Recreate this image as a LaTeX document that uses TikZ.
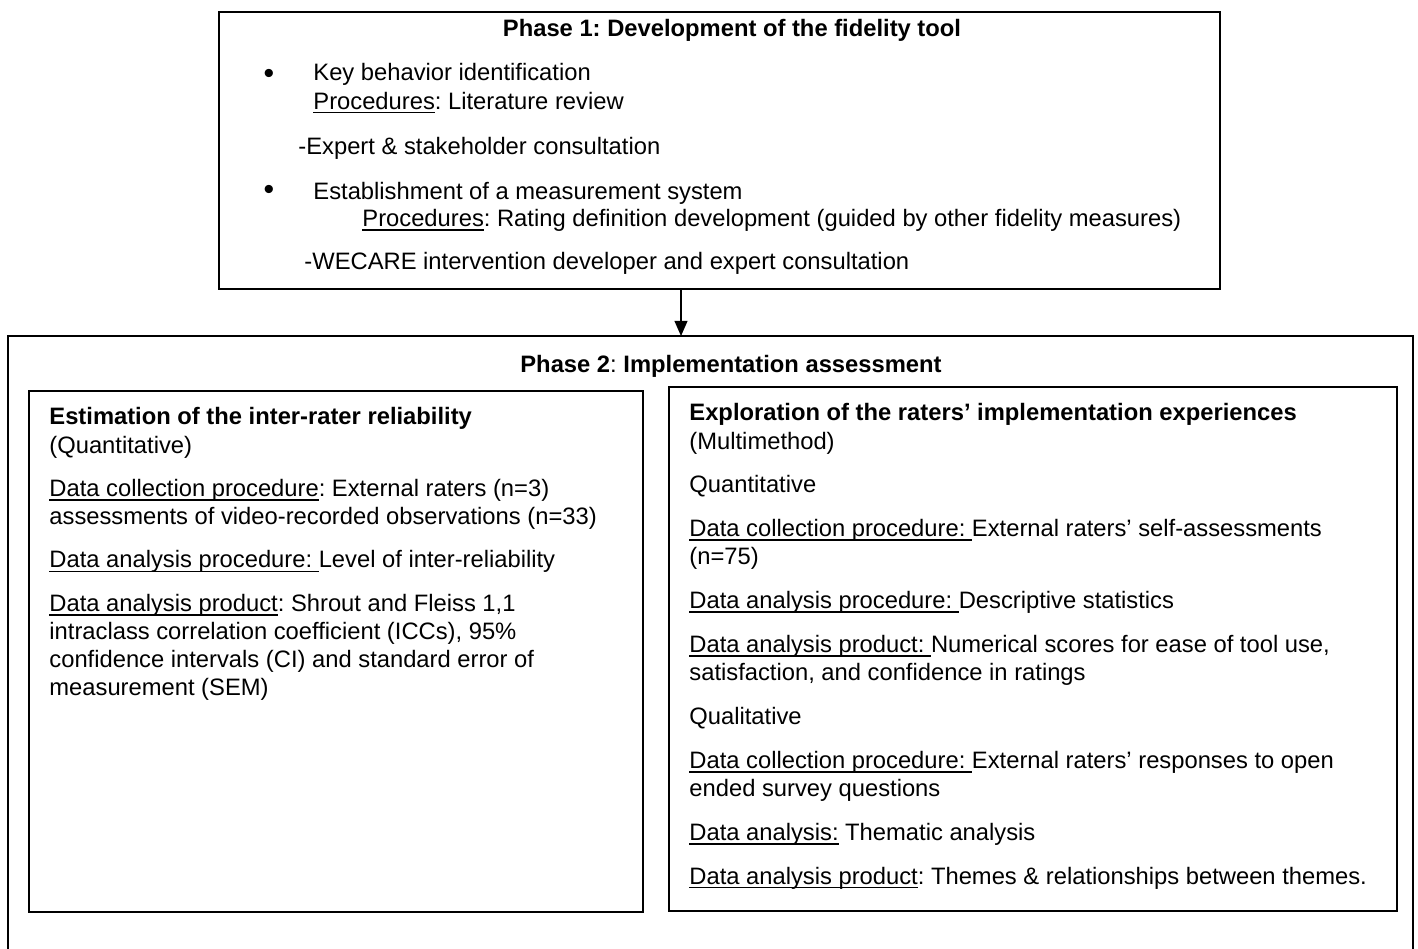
\documentclass[tikz,border=0pt]{standalone}
\usepackage{fontspec}
\setmainfont{Liberation Sans}
\usetikzlibrary{arrows.meta,fit}
\newcommand{\ulin}[1]{\setbox0\hbox{#1}\rlap{\rule[-2pt]{\wd0}{0.8pt}}\box0}
\begin{document}
\begin{tikzpicture}[x=0.463pt, y=-0.463pt,
  txt/.style={inner sep=0pt, anchor=north west, yshift=9.1pt, align=left,
    font=\fontsize{11}{13}\selectfont\frenchspacing, execute at begin node={\strut}},
  ttl/.style={txt, anchor=north, font=\fontsize{11}{13}\selectfont\frenchspacing\bfseries},
  dot/.style={txt, anchor=north, font=\fontsize{14}{13}\selectfont},
  p1frame/.style={draw, line width=1.2pt, inner sep=0pt},
  inframe/.style={draw, line width=0.6pt, inner sep=0pt},
  arr/.style={line width=0.6pt, -{Triangle[width=6pt,length=7pt]}}]
\useasboundingbox (0,0) rectangle (1418,949);
% phase 1
\node[p1frame, fit={(219,12) (1220,289)}] (p1) {};
\node[ttl] (p1title) at (732,36) {Phase 1: Development of the fidelity tool};
\node[dot] (dot1) at (269,83) {\textbullet};
\node[txt] (keyb) at (313,83) {Key behavior identification\\ \ulin{Procedures}: Literature review};
\node[txt] (expert) at (298,154) {-Expert \& stakeholder consultation};
\node[dot] (dot2) at (269,199) {\textbullet};
\node[txt] (estab) at (313,199) {Establishment of a measurement system};
\node[txt] (rating) at (362,226) {\ulin{Procedures}: Rating definition development (guided by other fidelity measures)};
\node[txt] (wecare) at (304,269) {-WECARE intervention developer and expert consultation};
% phase 2
\draw[line width=0.6pt] (8,949) |- (1413,336) -- (1413,949);
\coordinate (p2top) at (681,336);
\draw[arr] (p1.south -| p2top) -- (p2top);
\node[ttl] (p2title) at (731,372) {Phase 2\textmd{:} Implementation assessment};
\node[inframe, fit={(29,391) (643,912)}] (irr) {};
\node[inframe, fit={(669,387) (1397,911)}] (expl) {};
\node[txt] (irrtext) at (49,427) {\textbf{Estimation of the inter-rater reliability}\\ (Quantitative)\\[7.1pt]
  \ulin{Data collection procedure}: External raters (n=3)\\ assessments of video-recorded observations (n=33)\\[7.1pt]
  \ulin{Data analysis procedure: }Level of inter-reliability\\[7.1pt]
  \ulin{Data analysis product}: Shrout and Fleiss 1,1\\ intraclass correlation coefficient (ICCs), 95\%\\ confidence intervals (CI) and standard error of\\ measurement (SEM)};
\node[txt] (expltext) at (689,423) {\textbf{Exploration of the raters’ implementation experiences}\\ (Multimethod)\\[7.3pt]
  Quantitative\\[7.3pt]
  \ulin{Data collection procedure: }External raters’ self-assessments\\ (n=75)\\[7.3pt]
  \ulin{Data analysis procedure: }Descriptive statistics\\[7.3pt]
  \ulin{Data analysis product: }Numerical scores for ease of tool use,\\ satisfaction, and confidence in ratings\\[7.3pt]
  Qualitative\\[7.3pt]
  \ulin{Data collection procedure: }External raters’ responses to open\\ ended survey questions\\[7.3pt]
  \ulin{Data analysis:}\ Thematic analysis\\[7.3pt]
  \ulin{Data analysis product}: Themes \& relationships between themes.};
\end{tikzpicture}
\end{document}
